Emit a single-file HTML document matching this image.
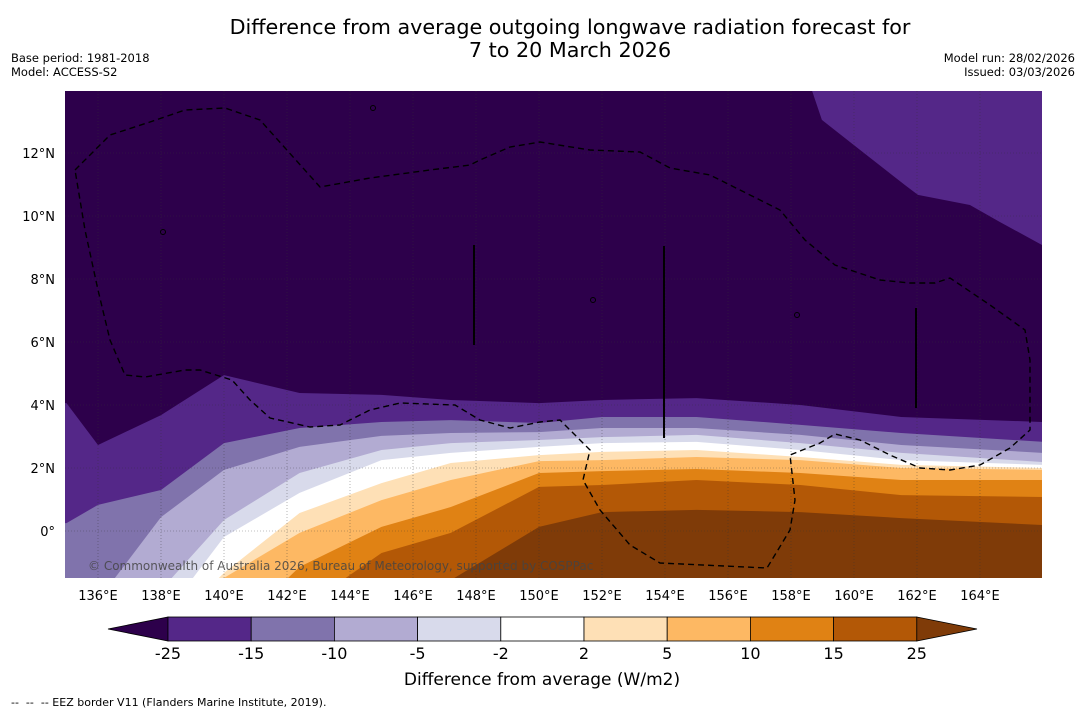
<!DOCTYPE html>
<html><head><meta charset="utf-8"><style>
html,body{margin:0;background:#fff;font-family:"Liberation Sans",sans-serif;overflow:hidden;width:1085px;height:713px}
svg{display:block}
</style></head><body>
<svg id="s" width="1085" height="713" viewBox="0 0 1085 713" xmlns="http://www.w3.org/2000/svg" font-family="DejaVu Sans, Liberation Sans, sans-serif">
<g>
<text x="570" y="34" text-anchor="middle" font-size="20.7">Difference from average outgoing longwave radiation forecast for</text>
<text x="570" y="57" text-anchor="middle" font-size="20.7">7 to 20 March 2026</text>
</g>
<text x="11" y="62" font-size="11.5">Base period: 1981-2018</text>
<text x="11" y="76" font-size="11.5">Model: ACCESS-S2</text>
<text x="1075" y="62" font-size="11.5" text-anchor="end">Model run: 28/02/2026</text>
<text x="1075" y="76" font-size="11.5" text-anchor="end">Issued: 03/03/2026</text>
<defs><clipPath id="mc"><rect x="65" y="91" width="977" height="487"/></clipPath></defs>
<g id="map" clip-path="url(#mc)"></g>
<g id="axes"></g>
<g id="cbar"></g>
<text x="542" y="685" text-anchor="middle" font-size="17">Difference from average (W/m2)</text>
<text x="11" y="706" font-size="11" xml:space="preserve">--  --  -- EEZ border V11 (Flanders Marine Institute, 2019).</text>
</svg>
<script>
const lons=[135,136,138,140,142.4,145,147.2,150,152,155,158.3,161.5,166];
const b1=[4.06,2.73,3.68,4.95,4.38,4.32,4.16,4.06,4.16,4.22,4.0,3.62,3.46];
const b2=[0.25,0.83,1.30,2.79,3.27,3.46,3.52,3.43,3.62,3.62,3.37,3.11,2.83];
const b3=[-2.2,-2.2,0.44,1.94,2.67,3.02,3.11,3.14,3.27,3.27,3.05,2.73,2.48];
const b4=[-2.8,-2.8,-1.87,0.35,1.84,2.57,2.79,2.89,2.98,3.05,2.79,2.48,2.19];
const b5=[-3.78,-3.78,-2.83,-0.19,1.21,2.25,2.48,2.67,2.79,2.83,2.57,2.25,2.10];
const b6=[-4.7,-4.7,-3.3,-1.33,0.57,1.52,2.16,2.41,2.51,2.57,2.35,2.10,2.0];
const b7=[-5.37,-5.37,-4.73,-1.49,-0.06,0.98,1.62,2.22,2.25,2.35,2.25,2.0,1.94];
const b8=[-5.97,-5.97,-5.97,-3.43,-1.14,0.13,0.76,1.84,1.9,1.97,1.84,1.62,1.62];
const b9=[-6.95,-6.95,-6.95,-5.37,-2.51,-0.7,-0.06,1.40,1.46,1.62,1.46,1.14,1.08];
const b10=[-8.5,-8.5,-8.5,-8.5,-6.95,-5.37,-1.56,0.13,0.6,0.67,0.6,0.41,0.19];
const boundaries=[b1,b2,b3,b4,b5,b6,b7,b8,b9,b10];
const nePatchLon=[158.67,158.98,160.19,161.62,162.03,163.68,164.63,165.97,166.5,166.5];
const nePatchLat=[13.97,13.05,12.1,10.98,10.67,10.35,9.81,9.08,9.08,14.2];
const colors=['#2d004b','#542788','#8073ac','#b2abd2','#d8daeb','#ffffff','#fee0b6','#fdb863','#e08214','#b35806','#7f3b08'];
const levels=['-25','-15','-10','-5','-2','2','5','10','15','25'];
const lonTicks=[136,138,140,142,144,146,148,150,152,154,156,158,160,162,164];
const latTicks=[0,2,4,6,8,10,12];
const latTickLabels=['0°','2°N','4°N','6°N','8°N','10°N','12°N'];
const X=l=>66.5+(l-135)*31.5, Y=l=>531-l*31.5;
const NS='http://www.w3.org/2000/svg';
function mk(t,a,p){const e=document.createElementNS(NS,t);for(const k in a)e.setAttribute(k,a[k]);p.appendChild(e);return e;}
const map=document.getElementById('map');
const bg=mk('rect',{x:65,y:91,width:977,height:487,fill:colors[0]},map);


let pts=nePatchLon.map((l,i)=>X(l)+','+Y(nePatchLat[i])).join(' ');
const ne=mk('polygon',{points:pts,fill:colors[1]},map);


boundaries.forEach((b,i)=>{
  let p=lons.map((l,j)=>X(l)+','+Y(b[j])).join(' ');
  p+=' '+X(166.5)+','+Y(b[b.length-1])+' '+X(166.5)+','+Y(-12)+' '+X(134)+','+Y(-12)+' '+X(134)+','+Y(b[0]);
  const e=mk('polygon',{points:p,fill:colors[i+1]},map);
  
  
});
lonTicks.forEach(l=>{const e=mk('line',{x1:X(l),x2:X(l),y1:91,y2:578,stroke:'#333','stroke-width':0.6,'stroke-dasharray':'1,2',opacity:0.6},map);});
latTicks.forEach(l=>{const e=mk('line',{x1:65,x2:1042,y1:Y(l),y2:Y(l),stroke:'#333','stroke-width':0.6,'stroke-dasharray':'1,2',opacity:0.6},map);});
const eez="75,170 110,135 150,122 185,110 225,108 260,120 320,187 370,178 430,170 470,165 480,160 510,147 540,142 590,150 640,152 670,168 710,175 760,200 780,210 805,240 835,265 880,280 910,283 935,283 950,278 990,305 1025,330 1030,360 1030,430 1010,448 980,465 950,470 920,468 890,455 860,440 835,434 820,443 790,455 795,500 790,530 767,568 660,563 630,545 600,510 583,480 590,450 560,420 540,422 510,428 480,420 455,405 400,403 370,410 340,425 310,427 270,418 250,400 232,380 200,370 185,370 145,377 125,375 110,340 98,290 85,230 75,170";
const ez=mk('polyline',{points:eez,fill:'none',stroke:'#000','stroke-width':1.4,'stroke-dasharray':'6,4'},map);


[[474,245,345],[664,246,438],[916,308,408]].forEach(v=>{const e=mk('line',{x1:v[0],x2:v[0],y1:v[1],y2:v[2],stroke:'#000','stroke-width':2},map);});
[[797,315],[373,108],[163,232],[593,300]].forEach(c=>{const e=mk('circle',{cx:c[0],cy:c[1],r:2.5,fill:'none',stroke:'#000','stroke-width':1},map);});
const cp=mk('text',{x:88,y:570,'font-size':12,fill:'#444','fill-opacity':0.85},map);cp.textContent='© Commonwealth of Australia 2026, Bureau of Meteorology, supported by COSPPac';

const ax=document.getElementById('axes');
lonTicks.forEach(l=>{const t=mk('text',{x:X(l),y:600,'font-size':13,'text-anchor':'middle'},ax);t.textContent=l+'°E';});
latTicks.forEach((l,i)=>{const t=mk('text',{x:55,y:Y(l)+5,'font-size':13,'text-anchor':'end'},ax);t.textContent=latTickLabels[i];});
const cb=document.getElementById('cbar');
const cx0=168,cw=83.2,cy=617,ch=24;
let tl=mk('polygon',{points:`108,629 ${cx0},${cy} ${cx0},${cy+ch}`,fill:colors[0],stroke:'#000','stroke-width':0.8},cb);

for(let i=1;i<10;i++){const r=mk('rect',{x:cx0+(i-1)*cw,y:cy,width:cw,height:ch,fill:colors[i],stroke:'#000','stroke-width':0.8},cb);}
let tr=mk('polygon',{points:`${cx0+9*cw},${cy} 977,629 ${cx0+9*cw},${cy+ch}`,fill:colors[10],stroke:'#000','stroke-width':0.8},cb);

levels.forEach((v,i)=>{const t=mk('text',{x:cx0+i*cw,y:659,'font-size':16,'text-anchor':'middle'},cb);t.textContent=v;});
</script>
</body></html>
